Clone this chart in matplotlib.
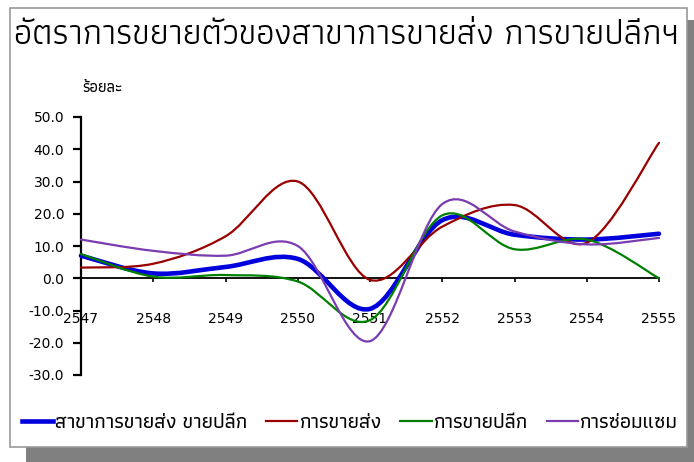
import matplotlib
matplotlib.use('Agg')
import matplotlib.pyplot as plt
from matplotlib.path import Path
from matplotlib.patches import PathPatch, Rectangle
from matplotlib.lines import Line2D

thai = ['Athiti', 'DejaVu Sans']

# ข้อมูล (ร้อยละ)
years = [2547, 2548, 2549, 2550, 2551, 2552, 2553, 2554, 2555]
total = [7.0, 1.5, 3.5, 6.0, -9.5, 18.0, 13.5, 12.0, 13.8]      # สาขาการขายส่ง ขายปลีก
wholesale = [3.3, 4.5, 13.0, 30.0, -0.5, 16.0, 22.7, 11.0, 42.0]  # การขายส่ง
retail = [7.5, 0.5, 1.0, -1.0, -13.0, 19.5, 9.0, 12.0, 0.0]      # การขายปลีก
repair = [12.0, 8.5, 7.0, 10.0, -19.5, 23.0, 14.5, 10.5, 12.5]   # การซ่อมแซม

labels = ['สาขาการขายส่ง ขายปลีก', 'การขายส่ง', 'การขายปลีก', 'การซ่อมแซม']
colors = ['#0000dd', '#990000', '#008000', '#7a3cb0']
widths = [3.3, 1.6, 1.6, 1.6]
yticks = [50, 40, 30, 20, 10, 0, -10, -20, -30]


def smooth_path(x, y):
    # เส้นโค้งแบบ smoothed line ของ Excel (Bezier ผ่านทุกจุด)
    n = len(x)
    verts = [(x[0], y[0])]
    codes = [Path.MOVETO]
    for i in range(n - 1):
        a = max(i - 1, 0)
        b = min(i + 2, n - 1)
        c1 = (x[i] + (x[i + 1] - x[a]) / 6, y[i] + (y[i + 1] - y[a]) / 6)
        c2 = (x[i + 1] - (x[b] - x[i]) / 6, y[i + 1] - (y[b] - y[i]) / 6)
        verts += [c1, c2, (x[i + 1], y[i + 1])]
        codes += [Path.CURVE4] * 3
    return Path(verts, codes)


fig = plt.figure(figsize=(6.94, 4.62), dpi=100)

# กรอบและเงา
fig.patches.append(Rectangle((26 / 694, 0), 1 - 26 / 694, 1 - 20 / 462,
                             transform=fig.transFigure, facecolor='#808080',
                             edgecolor='none', zorder=-3))
fig.patches.append(Rectangle((10 / 694, 1 - 447 / 462), 677 / 694, 439 / 462,
                             transform=fig.transFigure, facecolor='white',
                             edgecolor='#999999', linewidth=1.2, zorder=-2))

ax = fig.add_axes([81 / 694, 1 - 375 / 462, 578 / 694, 258 / 462])
ax.set_facecolor('none')
ax.set_xlim(2547, 2555)
ax.set_ylim(-30, 50)

series = [total, wholesale, retail, repair]
for s, c, w in zip(series, colors, widths):
    ax.add_patch(PathPatch(smooth_path(years, s), facecolor='none', edgecolor=c,
                           linewidth=w, capstyle='round', joinstyle='round',
                           zorder=3, clip_on=False))

for sp in ['top', 'right']:
    ax.spines[sp].set_visible(False)
ax.spines['left'].set_linewidth(1.6)
ax.spines['bottom'].set_position(('data', 0))
ax.spines['bottom'].set_linewidth(1.3)
ax.spines['bottom'].set_zorder(2)

ax.set_yticks(yticks)
ax.set_yticklabels(['%.1f' % v for v in yticks])
ax.set_xticks(years)
ax.set_xticklabels([str(v) for v in years])
ax.tick_params(axis='y', direction='out', length=6, width=1.6, pad=6, labelsize=10)
ax.tick_params(axis='x', direction='out', length=3, width=1.2, pad=21, labelsize=10)

fig.text(82 / 694, 1 - 88 / 462, 'ร้อยละ', family=thai, fontsize=11.5,
         fontweight='medium', va='center', ha='left')

title = fig.text(14 / 694, 1 - 35 / 462, 'อัตราการขยายตัวของสาขาการขายส่ง การขายปลีกฯ',
                 family=thai, fontsize=24, va='center', ha='left')
fig.canvas.draw()
tw = title.get_window_extent().width
title.set_fontsize(24 * 664 / tw)

handles = [Line2D([], [], color=c, linewidth=w) for c, w in zip(colors, widths)]
fig.legend(handles, labels, loc='center', bbox_to_anchor=(350 / 694, 1 - 423 / 462),
           ncol=4, frameon=False, handlelength=1.5, handletextpad=0.1,
           columnspacing=0.9, prop={'family': thai, 'size': 15, 'weight': 'medium'})

fig.savefig('out.png', dpi=100)
